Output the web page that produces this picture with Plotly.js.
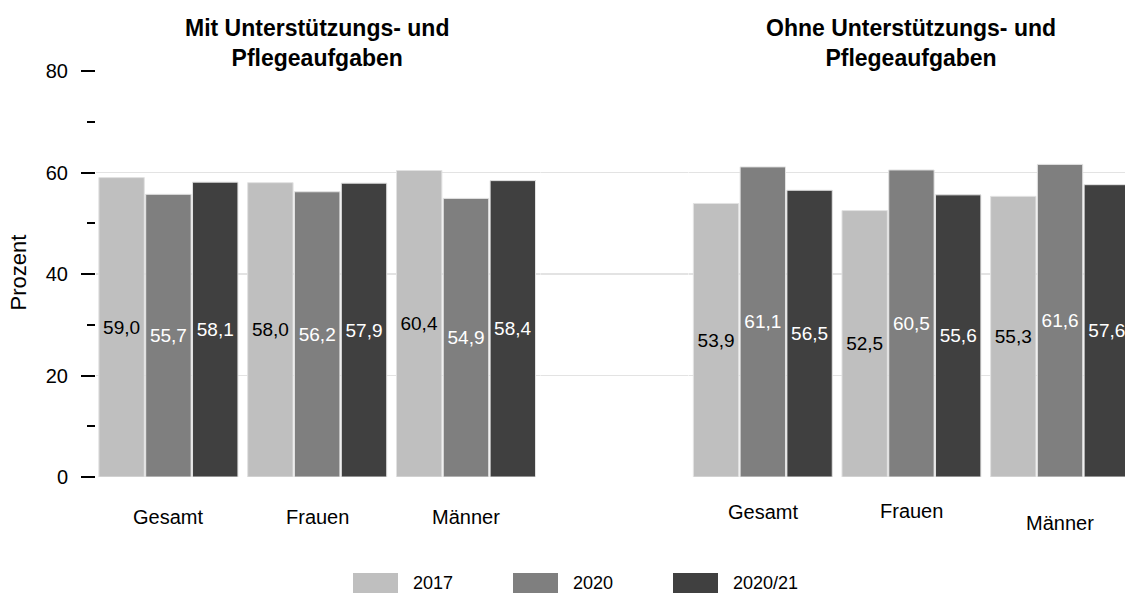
<!DOCTYPE html>
<html>
<head>
<meta charset="utf-8">
<script src="https://cdn.plot.ly/plotly-3.0.1.min.js"></script>
<style>html,body{margin:0;padding:0;background:#fff;}#chart{width:1125px;height:605px;}</style>
</head>
<body>
<div id="chart"></div>
<script>
// ---- data ----
const categories = ['Gesamt', 'Frauen', 'Männer'];
const seriesNames = ['2017', '2020', '2020/21'];
const mit2017 = [59.0, 58.0, 60.4];
const mit2020 = [55.7, 56.2, 54.9];
const mit2021 = [58.1, 57.9, 58.4];
const ohne2017 = [53.9, 52.5, 55.3];
const ohne2020 = [61.1, 60.5, 61.6];
const ohne2021 = [56.5, 55.6, 57.6];
const groupTitles = ['Mit Unterstützungs- und<br>Pflegeaufgaben', 'Ohne Unterstützungs- und<br>Pflegeaufgaben'];
const yTicks = [0, 20, 40, 60, 80];
const yMinorTicks = [10, 30, 50, 70];
const yTitle = 'Prozent';

// ---- styling ----
const FONT = '"Liberation Sans", Arial, Helvetica, sans-serif';
const colors = ['#bfbfbf', '#7f7f7f', '#404040'];
const textColors = ['#000000', '#ffffff', '#ffffff'];
const W = 1125, H = 605;
const L = 96, R = 0, T = 71, B = 128;
const PW = W - L - R, PH = H - T - B;
const xp = px => (px - L) / PW;
const yp = py => (H - B - py) / PH;

const groups = [
  {axis: 'x2', vals: [mit2017, mit2020, mit2021], title: groupTitles[0], labelY: [517, 517, 517]},
  {axis: 'x3', vals: [ohne2017, ohne2020, ohne2021], title: groupTitles[1], labelY: [512, 511, 523]}
];

const traces = [{x: [], y: [], type: 'scatter', mode: 'markers', xaxis: 'x', yaxis: 'y', showlegend: false, hoverinfo: 'skip'}];
const annotations = [];
groups.forEach(g => {
  g.vals.forEach((v, i) => {
    traces.push({
      type: 'bar',
      x: categories,
      y: v,
      name: seriesNames[i],
      xaxis: g.axis,
      yaxis: 'y',
      showlegend: false,
      marker: {color: colors[i], line: {color: '#e2e2e2', width: 1}},
      texttemplate: '%{y:.1f}',
      textposition: 'inside',
      insidetextanchor: 'middle',
      textangle: 0,
      constraintext: 'none',
      insidetextfont: {family: FONT, size: 19, color: textColors[i]},
      hoverinfo: 'x+y+name'
    });
  });
  // group title
  annotations.push({xref: g.axis, x: 1, yref: 'paper', y: yp(43), yanchor: 'middle', xanchor: 'center',
    text: '<b>' + g.title + '</b>', showarrow: false,
    font: {family: FONT, size: 23, color: '#000', weight: 'bold'}});
  // category labels
  categories.forEach((c, k) => {
    annotations.push({xref: g.axis, x: k, yref: 'paper', y: yp(g.labelY[k]), yanchor: 'middle', xanchor: 'center',
      text: c, showarrow: false, font: {family: FONT, size: 20, color: '#000'}});
  });
});

// y title
annotations.push({xref: 'paper', x: xp(17.5), yref: 'paper', y: yp(273), xanchor: 'center', yanchor: 'middle',
  text: yTitle, textangle: -90, showarrow: false, font: {family: FONT, size: 22, color: '#000'}});

// legend as swatches
const shapes = [];
const legX = [353, 513, 673];
seriesNames.forEach((n, i) => {
  shapes.push({type: 'rect', xref: 'paper', yref: 'paper', x0: xp(legX[i]), x1: xp(legX[i] + 45),
    y0: yp(573), y1: yp(593), fillcolor: colors[i], line: {width: 0}});
  annotations.push({xref: 'paper', yref: 'paper', x: xp(legX[i] + 58), y: yp(583), xanchor: 'left', yanchor: 'middle',
    text: n, showarrow: false, font: {family: FONT, size: 18, color: '#000'}});
});

const catAxis = (domain, range) => ({
  domain: domain, range: range, type: 'category', anchor: 'y',
  showgrid: false, zeroline: false, showline: false, ticks: '', showticklabels: false, fixedrange: true
});

const layout = {
  width: W, height: H,
  margin: {l: L, r: R, t: T, b: B, pad: 0},
  paper_bgcolor: '#ffffff', plot_bgcolor: '#ffffff',
  font: {family: FONT, size: 20, color: '#000'},
  separators: ',.',
  showlegend: false,
  bargap: 0.056,
  bargroupgap: 0.03,
  barmode: 'group',
  xaxis: {domain: [0, 1], range: [0, 1], anchor: 'y', showgrid: false, zeroline: false, showticklabels: false, ticks: '', showline: false, fixedrange: true},
  xaxis2: catAxis([0, xp(540.4)], [-0.4866, 2.5]),
  xaxis3: catAxis([xp(688.5), 1], [-0.5, 2.437]),
  yaxis: {
    domain: [0, 1], range: [0, 80], anchor: 'x',
    tickvals: yTicks, ticktext: yTicks.map(String),
    ticks: 'outside', ticklen: 14, tickwidth: 2, tickcolor: '#000',
    ticklabelstandoff: 9,
    tickfont: {family: FONT, size: 20, color: '#000'},
    showgrid: true, gridcolor: '#e3e3e3', gridwidth: 1.5,
    zeroline: true, zerolinecolor: '#ffffff', zerolinewidth: 3,
    showline: false,
    minor: {tickvals: yMinorTicks, ticks: 'outside', ticklen: 8, tickwidth: 2, tickcolor: '#000', showgrid: false},
    fixedrange: true
  },
  annotations: annotations,
  shapes: shapes
};

Plotly.newPlot('chart', traces, layout, {displayModeBar: false, staticPlot: true});
</script>
</body>
</html>
